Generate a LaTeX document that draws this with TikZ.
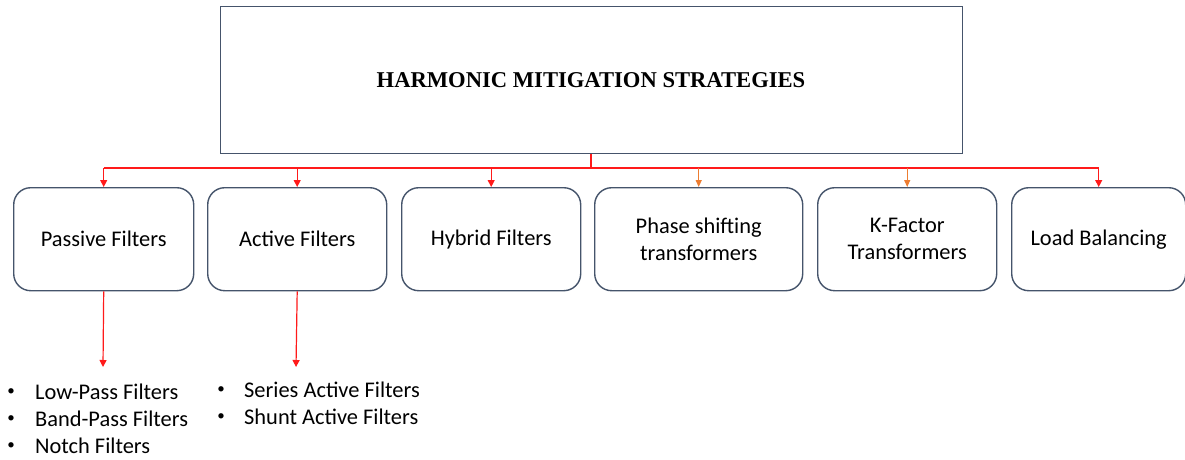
\documentclass[tikz,border=0pt]{standalone}
\usepackage{fontspec}
\setmainfont{Carlito}
\newfontfamily\titlefont{Liberation Serif}
\usetikzlibrary{arrows.meta,positioning}
\definecolor{boxline}{HTML}{45546B}
\definecolor{linkred}{HTML}{FF1A1A}
\definecolor{linkorange}{HTML}{ED7D31}
\begin{document}
\begin{tikzpicture}[x=1pt,y=-1pt,
  titlebox/.style={draw=boxline,line width=1.3pt,minimum width=742pt,minimum height=147pt,anchor=north west,inner sep=0pt},
  catbox/.style={draw=boxline,line width=1.4pt,rounded corners=17pt,minimum height=103pt,anchor=north west,inner sep=0pt,align=center,font=\fontsize{22.4}{27}\selectfont},
  link/.style={draw=linkred,line width=1.2pt},
  redarrow/.style={link,-{Triangle[length=7pt,width=7pt]}},
  orangearrow/.style={draw=linkorange,line width=1.2pt,-{Triangle[length=7pt,width=6pt]}},
  item/.style={anchor=west,inner sep=0pt,font=\fontsize{22.4}{27}\selectfont},
  dot/.style={anchor=center,inner sep=0pt,font=\fontsize{15}{18}\selectfont}
]
\useasboundingbox (0,0) rectangle (1185,459);
\fill[white] (0,0) rectangle (1185,459);

% main heading
\node[titlebox] (title) at (220,6) {};
\node[font=\titlefont\bfseries\fontsize{22.6}{26}\selectfont] (titletext) at (591,80) {HARMONIC MITIGATION STRATEGIES};

% strategy boxes
\node[catbox,minimum width=180pt] (passive) at (13,187) {Passive Filters};
\node[catbox,minimum width=179pt] (active) at (207,187) {Active Filters};
\node[catbox,minimum width=179pt] (hybrid) at (401,187) {Hybrid Filters};
\node[catbox,minimum width=208pt] (phase) at (594,187) {Phase shifting\\transformers};
\node[catbox,minimum width=179pt] (kfactor) at (817,187) {K-Factor\\Transformers};
\node[catbox,minimum width=174pt] (load) at (1011,187) {Load Balancing};

% distribution bus
\coordinate (stem) at (591,168);
\coordinate (busL) at (passive.north |- stem);
\coordinate (busR) at (load.north |- stem);
\draw[link] (title.south -| stem) -- (stem);
\draw[link] (busL) -- (busR);
\draw[redarrow] (busL) -- (passive.north);
\draw[redarrow] (active.north |- stem) -- (active.north);
\draw[redarrow] (hybrid.north |- stem) -- (hybrid.north);
\draw[orangearrow] (phase.north |- stem) -- (phase.north);
\draw[orangearrow] (kfactor.north |- stem) -- (kfactor.north);
\draw[redarrow] (busR) -- (load.north);

% sub-lists
\coordinate (plist) at (103,367);
\coordinate (alist) at (296,367);
\draw[redarrow] (passive.south) -- (plist);
\draw[redarrow] (active.south) -- (alist);

\node[dot] (b1) at (11,392) {•};
\node[item] (lp) at (35,392) {Low-Pass Filters};
\node[dot] (b2) at (11,419) {•};
\node[item] (bp) at (35,419) {Band-Pass Filters};
\node[dot] (b3) at (11,446) {•};
\node[item] (nf) at (35,446) {Notch Filters};

\node[dot] (b4) at (221,390) {•};
\node[item] (sa) at (244,390) {Series Active Filters};
\node[dot] (b5) at (221,417) {•};
\node[item] (sh) at (244,417) {Shunt Active Filters};
\end{tikzpicture}
\end{document}
